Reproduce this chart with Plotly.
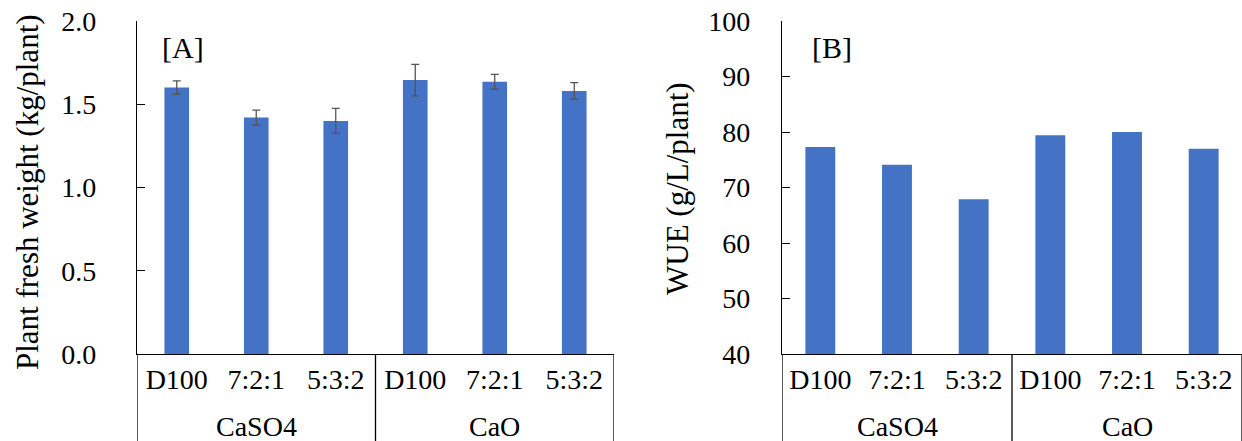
import plotly.graph_objects as go

groups = ["CaSO4", "CaSO4", "CaSO4", "CaO", "CaO", "CaO"]
treatments = ["D100", "7:2:1", "5:3:2", "D100", "7:2:1", "5:3:2"]

fresh_weight = [1.60, 1.42, 1.40, 1.645, 1.635, 1.58]
fresh_weight_err = [0.04, 0.045, 0.075, 0.095, 0.045, 0.05]
wue = [77.3, 74.1, 67.9, 79.4, 80.0, 77.0]

BAR = "#4472C4"
FONT = "Liberation Serif"
W, H = 1242, 441
ML, MR, MT, MB = 0, 0, 21, 87
PLOT_H = H - MT - MB

pos = list(range(len(treatments)))

fig = go.Figure()
fig.add_trace(go.Bar(
    x=pos, y=fresh_weight, width=0.31,
    marker=dict(color=BAR, line=dict(width=0)),
    error_y=dict(type="data", array=fresh_weight_err, visible=True,
                 color="#555555", thickness=1.3, width=4),
    xaxis="x", yaxis="y", showlegend=False,
))
fig.add_trace(go.Bar(
    x=pos, y=wue, width=0.39,
    marker=dict(color=BAR, line=dict(width=0)),
    xaxis="x2", yaxis="y2", showlegend=False,
))

tick_font = dict(family=FONT, size=28, color="#000000")
xcommon = dict(
    showline=True, linecolor="#000000", linewidth=1.3, ticks="",
    showgrid=False, zeroline=False, automargin=False, range=[-0.5, len(pos) - 0.5],
    tickmode="array", tickvals=pos, ticktext=treatments, tickfont=tick_font,
)
ycommon = dict(
    showline=True, linecolor="#000000", linewidth=1.3, ticks="inside",
    ticklen=8, tickcolor="#000000", tickwidth=1.3, showgrid=False,
    zeroline=False, automargin=False, tickfont=tick_font,
)

ann_font = dict(family=FONT, size=30, color="#000000")
title_font = dict(family=FONT, size=31, color="#000000")

annotations = [
    dict(text="[A]", x=183 / W, y=(354 - 48) / PLOT_H, xref="paper", yref="paper",
         xanchor="center", yanchor="middle", showarrow=False, font=ann_font),
    dict(text="[B]", x=832 / W, y=(354 - 48) / PLOT_H, xref="paper", yref="paper",
         xanchor="center", yanchor="middle", showarrow=False, font=ann_font),
    dict(text="Plant fresh weight (kg/plant)", x=27 / W, y=(354 - 192) / PLOT_H,
         xref="paper", yref="paper", xanchor="center", yanchor="middle",
         showarrow=False, textangle=-90, font=title_font),
    dict(text="WUE (g/L/plant)", x=678 / W, y=(354 - 189) / PLOT_H,
         xref="paper", yref="paper", xanchor="center", yanchor="middle",
         showarrow=False, textangle=-90, font=title_font),
]
shapes = []

# group labels and divider lines below the category axis
for xr in ["x", "x2"]:
    bounds = [-0.5]
    for i in range(1, len(groups)):
        if groups[i] != groups[i - 1]:
            bounds.append(i - 0.5)
    bounds.append(len(groups) - 0.5)
    for b in bounds:
        shapes.append(dict(type="line", xref=xr, yref="paper", x0=b, x1=b,
                           y0=0, y1=-MB / PLOT_H,
                           line=dict(color="#000000", width=1.3)))
    for a, b in zip(bounds[:-1], bounds[1:]):
        name = groups[int(a + 0.5)]
        annotations.append(dict(text=name, x=(a + b) / 2, xref=xr, yref="paper",
                                y=-(426 - 354) / PLOT_H, xanchor="center",
                                yanchor="middle", showarrow=False, font=tick_font))

fig.update_layout(
    width=W, height=H,
    font=dict(family=FONT, color="#000000"),
    margin=dict(l=ML, r=MR, t=MT, b=MB, pad=0),
    plot_bgcolor="white", paper_bgcolor="white",
    xaxis=dict(domain=[137 / W, 614 / W], anchor="y", **xcommon),
    xaxis2=dict(domain=[782 / W, 1.0], anchor="y2", **xcommon),
    yaxis=dict(anchor="x", range=[0, 2.0], dtick=0.5, tickformat=".1f",
               ticklabelstandoff=34, **ycommon),
    yaxis2=dict(anchor="x2", range=[40, 100], dtick=10,
                ticklabelstandoff=25, **ycommon),
    annotations=annotations,
    shapes=shapes,
)

fig.write_html("out.html")
